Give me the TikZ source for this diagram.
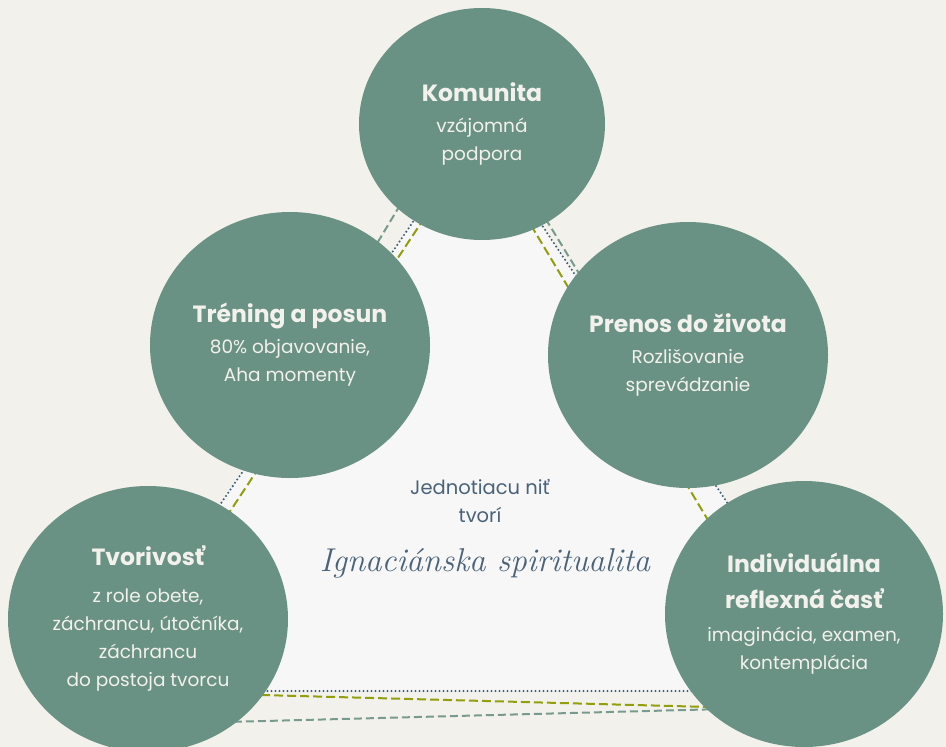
\documentclass[tikz,border=0pt]{standalone}
\usepackage{fontspec}
\setmainfont{Poppins}
\newfontfamily\handfont{Latin Modern Roman}
\usetikzlibrary{shapes.geometric}
\definecolor{bgpaper}{HTML}{F2F1EC}
\definecolor{innerfill}{HTML}{F7F7F7}
\definecolor{sage}{HTML}{6A9284}
\definecolor{limeline}{HTML}{929E0C}
\definecolor{dotline}{HTML}{3F6079}
\definecolor{tealline}{HTML}{789B8D}
\definecolor{inktext}{HTML}{4A6378}
\tikzset{%
bubble/.style={ellipse, fill=sage, text=bgpaper, inner sep=0pt, minimum width=280pt, minimum height=266pt, align=center, font=\fontsize{18.5}{28}\selectfont},
limedash/.style={draw=limeline, line width=2pt, dash pattern=on 9pt off 4pt},
dotrow/.style={draw=dotline, line width=2.3pt, line cap=round, dash pattern=on 0pt off 4pt},
tealdash/.style={draw=tealline, line width=2pt, dash pattern=on 8pt off 4pt}
}
\newcommand{\headtxt}[1]{{\bfseries\fontsize{23.5}{28}\selectfont #1}}

\begin{document}
\begin{tikzpicture}[x=1pt, y=-1pt]
			\useasboundingbox (0,0) rectangle (946,747);
			\fill[bgpaper] (0,0) rectangle (946,747);
			\coordinate (dotA) at (93,691);
			\coordinate (dotB) at (477,128);
			\coordinate (dotC) at (853,691);
			\coordinate (limeA) at (111,691);
			\coordinate (limeB) at (478,137);
			\coordinate (limeC) at (822,710);
			\coordinate (tealA) at (322,335);
			\coordinate (tealB) at (468,92);
			\coordinate (tealC) at (640,373);
			\coordinate (tealD) at (150,724);
			\coordinate (tealE) at (800,707);
			\fill[innerfill] (dotA) -- (dotB) -- (dotC) -- cycle;
			\draw[tealdash] (tealA) -- (tealB) -- (tealC);
			\draw[tealdash] (tealD) -- (tealE);
			\draw[limedash] (limeA) -- (limeB) -- (limeC) -- cycle;
			\draw[dotrow] (dotA) -- (dotB) -- (dotC) -- cycle;
			\node[bubble, minimum width=246pt, minimum height=232pt] (komunita) at (482,124) {\headtxt{Komunita}\\[3pt] vzájomná\\ podpora};
			\node[bubble] (trening) at (290,345) {\headtxt{Tréning a posun}\\[3pt] 80\% objavovanie,\\ Aha momenty};
			\node[bubble] (prenos) at (688,355) {\headtxt{Prenos do života}\\[3pt] Rozlišovanie\\ sprevádzanie};
			\node[bubble] (tvorivost) at (148,619) {\headtxt{Tvorivosť}\\[9pt] z role obete,\\ záchrancu, útočníka,\\ záchrancu\\ do postoja tvorcu};
			\node[bubble, minimum width=278pt] (individualna) at (804,614) {\headtxt{Individuálna}\\[8pt] \headtxt{reflexná časť}\\[5pt] imaginácia, examen,\\ kontemplácia};
			\node[text=inktext, align=center, font=\fontsize{19.5}{28}\selectfont] (nit) at (480,501) {Jednotiacu niť\\ tvorí};
			\node[text=inktext, font=\handfont\itshape\fontsize{33}{38}\selectfont] (ignac) at (485,563) {Ignaciánska spiritualita};
		\end{tikzpicture}
\end{document}
